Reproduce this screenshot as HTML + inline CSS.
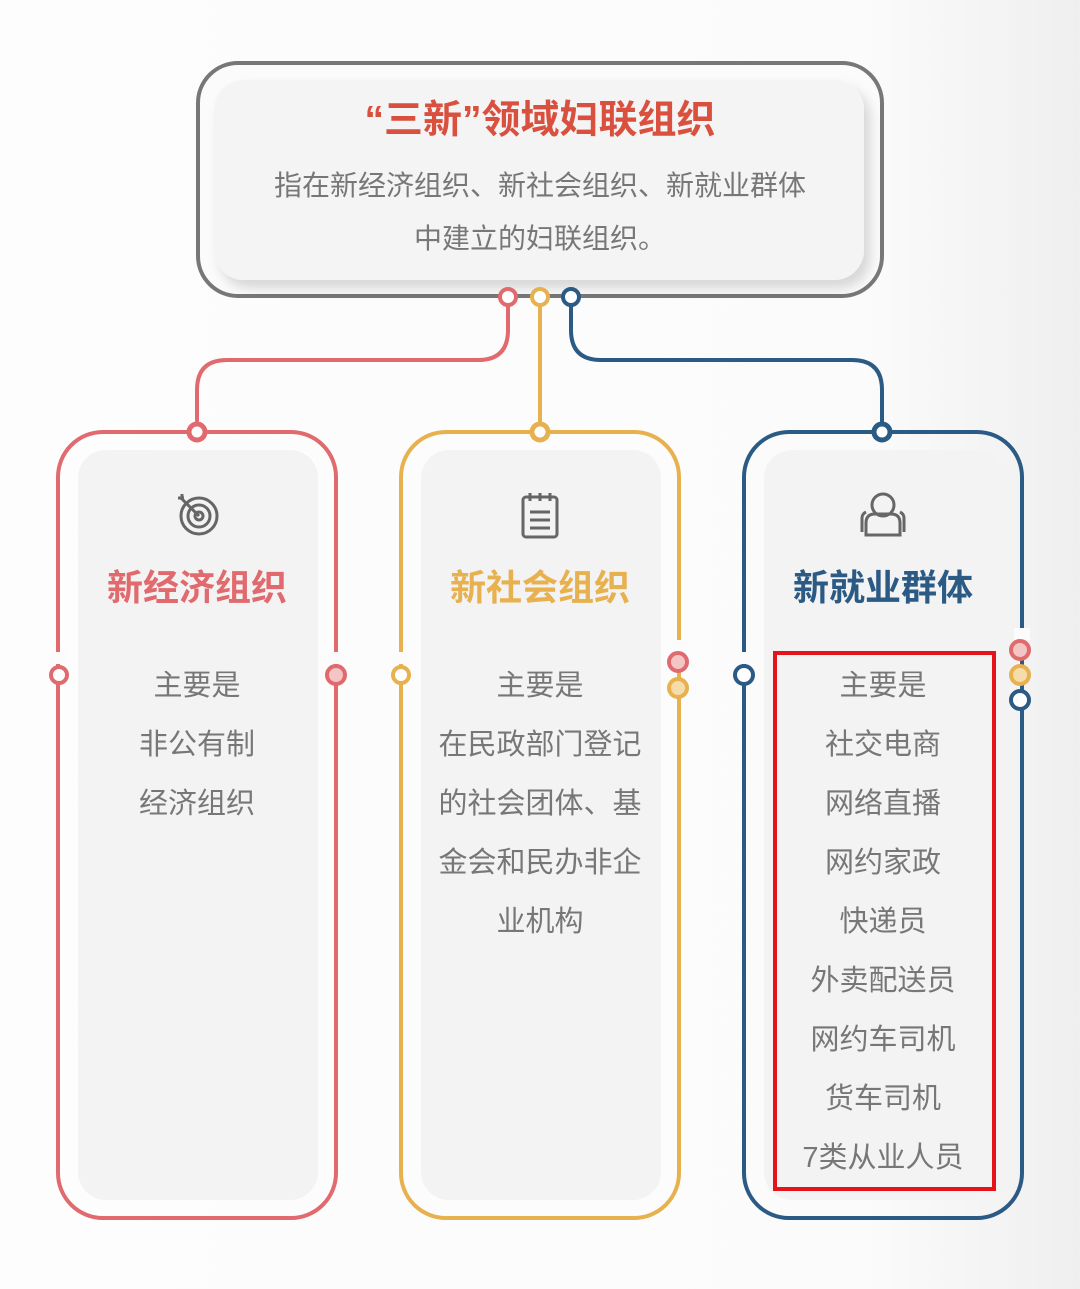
<!DOCTYPE html>
<html><head><meta charset="utf-8"><style>
html,body{margin:0;padding:0;}
body{width:1080px;height:1284px;overflow:hidden;background:linear-gradient(90deg,#fdfdfd 0%,#fbfbfb 80%,#efefef 100%);}
svg text{font-family:"Liberation Sans","Noto Sans CJK SC",sans-serif;}
</style></head><body>
<svg width="1080" height="1284" viewBox="0 0 1080 1284" xmlns="http://www.w3.org/2000/svg">
<defs>
<filter id="sh" x="-10%" y="-10%" width="130%" height="130%"><feDropShadow dx="6" dy="8" stdDeviation="6" flood-color="#000" flood-opacity="0.15"/></filter>
</defs>
<rect x="198" y="63" width="684" height="233" rx="40" fill="#fbfbfb" stroke="#777" stroke-width="4"/>
<rect x="214" y="80" width="650" height="200" rx="30" fill="#f4f4f4" filter="url(#sh)"/>
<text x="540" y="133" text-anchor="middle" font-size="39" font-weight="bold" fill="#d9503f">“三新”领域妇联组织</text>
<text x="540" y="195" text-anchor="middle" font-size="28" fill="#777">指在新经济组织、新社会组织、新就业群体</text>
<text x="540" y="248" text-anchor="middle" font-size="28" fill="#777">中建立的妇联组织。</text>

<path d="M508 305 V330 Q508 360 478 360 H227 Q197 360 197 390 V424" fill="none" stroke="#e06a6e" stroke-width="4"/>
<path d="M540 305 V424" fill="none" stroke="#e8b14f" stroke-width="4"/>
<path d="M571 305 V330 Q571 360 601 360 H852 Q882 360 882 390 V424" fill="none" stroke="#2b5a85" stroke-width="4"/>
<circle cx="508" cy="297" r="8" fill="#fff" stroke="#e06a6e" stroke-width="4"/>
<circle cx="540" cy="297" r="8" fill="#fff" stroke="#e8b14f" stroke-width="4"/>
<circle cx="571" cy="297" r="8" fill="#fff" stroke="#2b5a85" stroke-width="4"/>

<rect x="58" y="432" width="278" height="786" rx="45" fill="none" stroke="#e06a6e" stroke-width="4"/>
<rect x="401" y="432" width="278" height="786" rx="45" fill="none" stroke="#e8b14f" stroke-width="4"/>
<rect x="744" y="432" width="278" height="786" rx="45" fill="none" stroke="#2b5a85" stroke-width="4"/>
<rect x="50" y="652" width="16" height="12" fill="#fbfbfb"/>
<rect x="328" y="652" width="16" height="12" fill="#fbfbfb"/>
<rect x="393" y="652" width="16" height="12" fill="#fbfbfb"/>
<rect x="671" y="640" width="16" height="12" fill="#fbfbfb"/>
<rect x="736" y="652" width="16" height="12" fill="#fbfbfb"/>
<rect x="1014" y="628" width="16" height="12" fill="#fbfbfb"/>

<rect x="78" y="450" width="240" height="750" rx="28" fill="#f3f3f3"/>
<rect x="421" y="450" width="240" height="750" rx="28" fill="#f3f3f3"/>
<rect x="764" y="450" width="240" height="750" rx="28" fill="#f3f3f3"/>

<circle cx="197" cy="432" r="8" fill="#fff" stroke="#e06a6e" stroke-width="5"/>
<circle cx="540" cy="432" r="8" fill="#fff" stroke="#e8b14f" stroke-width="5"/>
<circle cx="882" cy="432" r="8" fill="#fff" stroke="#2b5a85" stroke-width="5"/>
<circle cx="59" cy="675" r="8" fill="#fff" stroke="#e06a6e" stroke-width="4"/>
<circle cx="336" cy="675" r="9" fill="#f3c5c5" stroke="#e06a6e" stroke-width="4"/>
<circle cx="401" cy="675" r="8" fill="#fff" stroke="#e8b14f" stroke-width="4"/>
<circle cx="678" cy="662" r="9" fill="#f3c5c5" stroke="#e06a6e" stroke-width="4"/>
<circle cx="678" cy="688" r="9" fill="#f5dcaa" stroke="#e8b14f" stroke-width="4"/>
<circle cx="744" cy="675" r="9" fill="#fff" stroke="#2b5a85" stroke-width="4"/>
<circle cx="1020" cy="650" r="9" fill="#f3c5c5" stroke="#e06a6e" stroke-width="4"/>
<circle cx="1020" cy="675" r="9" fill="#f5dcaa" stroke="#e8b14f" stroke-width="4"/>
<circle cx="1020" cy="700" r="9" fill="#fff" stroke="#2b5a85" stroke-width="4"/>

<g fill="none" stroke="#666" stroke-width="3">
<circle cx="199" cy="516" r="18"/><circle cx="199" cy="516" r="11"/><circle cx="199" cy="516" r="4"/>
<path d="M199 516 L182 499 M178 498 l6 0 M182 494 l0 6"/>
<rect x="523" y="497" width="34" height="40" rx="3"/>
<path d="M530 493 v8 M540 493 v8 M550 493 v8 M530 512 h20 M530 520 h20 M530 528 h20"/>
<circle cx="883" cy="505" r="11"/>
<path d="M866 535 v-12 q0 -9 9 -9 h16 q9 0 9 9 v12 z"/>
<path d="M862 532 v-14 q0 -4 4 -6 M904 532 v-14 q0 -4 -4 -6"/>
</g>

<text x="197" y="600" text-anchor="middle" font-size="36" font-weight="bold" fill="#e06a6e">新经济组织</text>
<text x="540" y="600" text-anchor="middle" font-size="36" font-weight="bold" fill="#e8b14f">新社会组织</text>
<text x="883" y="600" text-anchor="middle" font-size="36" font-weight="bold" fill="#2b5a85">新就业群体</text>

<g font-size="29" fill="#777" text-anchor="middle">
<text x="197" y="695">主要是</text>
<text x="197" y="754">非公有制</text>
<text x="197" y="813">经济组织</text>
<text x="540" y="695">主要是</text>
<text x="540" y="754">在民政部门登记</text>
<text x="540" y="813">的社会团体、基</text>
<text x="540" y="872">金会和民办非企</text>
<text x="540" y="931">业机构</text>
<text x="883" y="695">主要是</text>
<text x="883" y="754">社交电商</text>
<text x="883" y="813">网络直播</text>
<text x="883" y="872">网约家政</text>
<text x="883" y="931">快递员</text>
<text x="883" y="990">外卖配送员</text>
<text x="883" y="1049">网约车司机</text>
<text x="883" y="1108">货车司机</text>
<text x="883" y="1167">7类从业人员</text>
</g>
<rect x="775" y="653" width="219" height="536" fill="none" stroke="#e5141a" stroke-width="4"/>
</svg>
</body></html>
